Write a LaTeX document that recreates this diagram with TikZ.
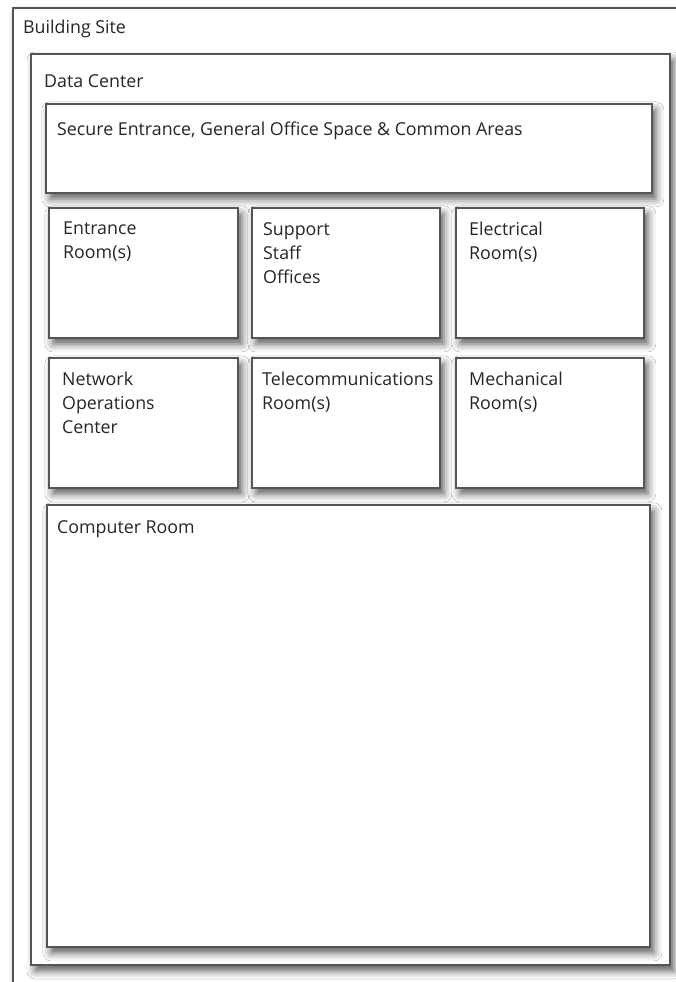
\documentclass[tikz,border=0pt]{standalone}
\usepackage{fontspec}
\setmainfont{Open Sans}
\usetikzlibrary{shadows.blur}
\definecolor{edge}{HTML}{555555}
\begin{document}
\begin{tikzpicture}[x=1pt,y=-1pt,
  room/.style={draw=edge, line width=1.8pt, fill=white, inner sep=0pt,
    blur shadow={shadow xshift=4pt, shadow yshift=-6pt,
      shadow blur radius=8pt, shadow opacity=65}},
  txt/.style={anchor=north west, inner sep=0pt, align=left, text=black!85,
    font=\fontsize{17.8}{24}\selectfont, execute at begin node=\strut}]
\useasboundingbox (0,0) rectangle (676,982);
\clip (0,0) rectangle (676,982);
% site and building outlines
\draw[room] (13,8) rectangle (700,1010);
\coordinate (site) at (13,8);
\node[txt] at ([shift={(10,9)}]site) {Building Site};
\draw[room] (31,54) rectangle (670,965);
\coordinate (dc) at (31,54);
\node[txt] at ([shift={(13,17)}]dc) {Data Center};
% rooms
\node[room, anchor=north west, minimum width=606pt, minimum height=89pt] (sec) at (45,103) {};
\node[txt] at ([shift={(12,15)}]sec.north west) {Secure Entrance, General Office Space \& Common Areas};

\node[room, anchor=north west, minimum width=189pt, minimum height=130pt] (ent) at (48,207) {};
\node[room, anchor=north west, minimum width=188pt, minimum height=130pt] (sup) at (251,207) {};
\node[room, anchor=north west, minimum width=188pt, minimum height=130pt] (ele) at (455,207) {};
\node[txt] at ([shift={(15,15)}]ent.north west) {Entrance\\Room(s)};
\node[txt] at ([shift={(12,15)}]sup.north west) {Support\\Staff\\Offices};
\node[txt] at ([shift={(14,15)}]ele.north west) {Electrical\\Room(s)};

\node[room, anchor=north west, minimum width=189pt, minimum height=130pt] (noc) at (48,357) {};
\node[room, anchor=north west, minimum width=188pt, minimum height=130pt] (tel) at (251,357) {};
\node[room, anchor=north west, minimum width=188pt, minimum height=130pt] (mec) at (455,357) {};
\node[txt] at ([shift={(14,15)}]noc.north west) {Network\\Operations\\Center};
\node[txt] at ([shift={(11,15)}]tel.north west) {Telecommunications\\Room(s)};
\node[txt] at ([shift={(14,15)}]mec.north west) {Mechanical\\Room(s)};

\node[room, anchor=north west, minimum width=603pt, minimum height=442pt] (cmp) at (46,504) {};
\node[txt] at ([shift={(11,12)}]cmp.north west) {Computer Room};
\end{tikzpicture}
\end{document}
